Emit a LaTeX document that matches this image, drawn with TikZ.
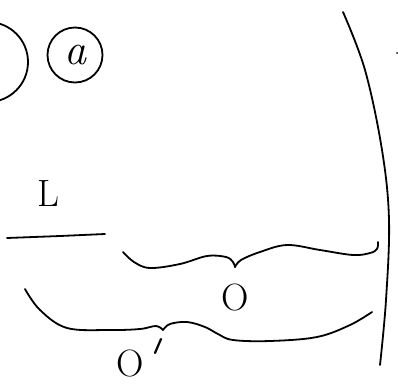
\documentclass[tikz,border=0pt]{standalone}
\usepackage{fontspec}
\usepackage{tikz}
\usetikzlibrary{positioning}

\begin{document}
\begin{tikzpicture}[
        x=1pt, y=-1pt,
        pen/.style={
          line width=1.8pt,
          line cap=round,
          line join=round
        },
        ring/.style={
          draw,
          circle,
          line width=1.8pt,
          inner sep=0pt
        },
        label/.style={
          inner sep=0pt,
          font=\fontsize{38}{38}\selectfont
        }
      ]

      \useasboundingbox (0,0) rectangle (398,383);

      % circles at the top
      \node[ring, minimum size=80] (left) at (-12,62) {};
      \node[ring, minimum size=55, font=\fontsize{44}{44}\selectfont\itshape] (a) at (75,55) {a};

      % L and its bar
      \node[label] (L) at (48,194) {L};
      \draw[pen] (7,238) -- (60,236) -- (105,234);

      % upper brace
      \draw[pen] plot[smooth, tension=.6] coordinates {(123,252) (134,262) (150,268) (180,264) (207,256) (226,257) (233,262) (235,267)};
      \draw[pen] plot[smooth, tension=.6] coordinates {(235,267) (241,260) (260,252) (287,245) (320,250) (353,255) (370,253) (377,249) (378,242)};
      \node[label] (O) at (235,298) {O};

      % lower brace
      \draw[pen] plot[smooth, tension=.6] coordinates {(25,289) (40,310) (67,328) (110,330) (140,329) (156,326) (163,330)};
      \draw[pen] plot[smooth, tension=.6] coordinates {(163,330) (170,324) (187,322) (205,327) (218,334) (233,340) (270,341) (317,337) (350,325) (372,312)};
      \node[label] (Op) at (130,364) {O};
      \draw[pen, line width=2.2pt] (161,339) -- (155,353);

      % bracket on the right
      \draw[pen] plot[smooth, tension=.6] coordinates {(343,12) (365,70) (382,150) (389,220) (386,300) (380,365)};
      \fill (397,53) circle (1pt);

      \end{tikzpicture}
\end{document}
